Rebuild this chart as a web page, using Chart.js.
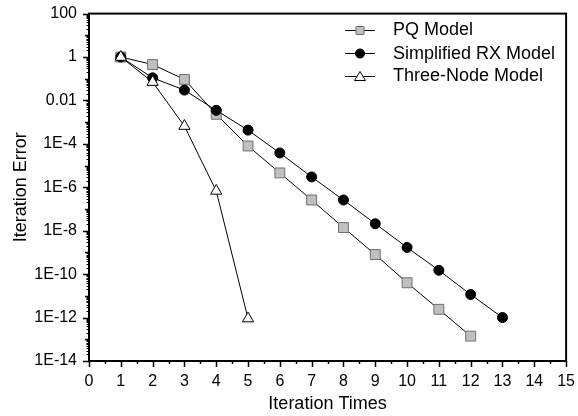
<!DOCTYPE html>
<html>
<head>
<meta charset="utf-8">
<script src="https://cdn.jsdelivr.net/npm/chart.js@4/dist/chart.umd.min.js"></script>
<style>
  html, body { margin: 0; padding: 0; background: #fff; }
  #wrap { width: 578px; height: 416px; }
</style>
</head>
<body>
<div id="wrap"><canvas id="errChart" width="578" height="416"></canvas></div>
<script>
// iteration count on x, error on a log y axis
const pqX = [1, 2, 3, 4, 5, 6, 7, 8, 9, 10, 11, 12];
const pqErr = [1, 0.45, 0.093, 2.3e-3, 8e-5, 4.6e-6, 2.6e-7, 1.4e-8, 8e-10, 4e-11, 2.4e-12, 1.4e-13];
const rxX = [1, 2, 3, 4, 5, 6, 7, 8, 9, 10, 11, 12, 13];
const rxErr = [1, 0.11, 0.03, 3.5e-3, 4.3e-4, 3.8e-5, 3e-6, 2.6e-7, 2.1e-8, 1.7e-9, 1.5e-10, 1.15e-11, 1e-12];
const tnX = [1, 2, 3, 4, 5];
const tnErr = [1, 0.07, 6.6e-4, 6.8e-7, 9e-13];
const yTicks = [100, 1, 0.01, 1e-4, 1e-6, 1e-8, 1e-10, 1e-12, 1e-14];
const seriesNames = ['PQ Model', 'Simplified RX Model', 'Three-Node Model'];

const FONT = 'Arial, "Liberation Sans", sans-serif';

function toPoints(xs, ys) {
  return xs.map((x, i) => ({ x: x, y: ys[i] }));
}

function yLabel(v) {
  if (v >= 0.01) return String(v);
  return '1E' + Math.round(Math.log10(v));
}

// frame, minor ticks and legend drawn on top of the chart
const extras = {
  id: 'extras',
  afterDraw(chart) {
    const ctx = chart.ctx;
    const a = chart.chartArea;
    const xs = chart.scales.x, ys = chart.scales.y;
    ctx.save();
    ctx.strokeStyle = '#000';
    // x ticks
    ctx.lineWidth = 1.5;
    for (let v = 0; v <= 15; v += 0.5) {
      const px = Math.round(xs.getPixelForValue(v)) + 0.5;
      const len = Number.isInteger(v) ? 6 : 3;
      ctx.beginPath();
      ctx.moveTo(px, a.bottom);
      ctx.lineTo(px, a.bottom + len);
      ctx.stroke();
    }
    // y ticks
    for (let e = -14; e <= 2; e++) {
      const py = Math.round(ys.getPixelForValue(Math.pow(10, e))) + 0.5;
      const len = (e % 2 === 0) ? 6 : 4;
      ctx.lineWidth = 1.5;
      ctx.beginPath();
      ctx.moveTo(a.left, py);
      ctx.lineTo(a.left - len, py);
      ctx.stroke();
      if (e < 2) {
        ctx.lineWidth = 1;
        for (let m = 2; m <= 9; m++) {
          const my = Math.round(ys.getPixelForValue(m * Math.pow(10, e))) + 0.5;
          ctx.beginPath();
          ctx.moveTo(a.left, my);
          ctx.lineTo(a.left - 2.5, my);
          ctx.stroke();
        }
      }
    }
    // frame
    ctx.lineWidth = 2;
    ctx.strokeRect(a.left, a.top, a.right - a.left, a.bottom - a.top);

    // legend
    const baselines = [35, 58.5, 81];
    chart.data.datasets.forEach((ds, i) => {
      const y = Math.round(baselines[i] - 5.5) + 0.5;
      ctx.lineWidth = 1;
      ctx.strokeStyle = '#000';
      ctx.beginPath();
      ctx.moveTo(345, y);
      ctx.lineTo(375, y);
      ctx.stroke();
      ctx.fillStyle = ds.pointBackgroundColor;
      ctx.strokeStyle = ds.pointBorderColor;
      ctx.beginPath();
      const cx = 360;
      if (ds.pointStyle === 'rect') {
        ctx.rect(cx - 4, y - 4, 8, 8);
      } else if (ds.pointStyle === 'circle') {
        ctx.arc(cx, y, 4.5, 0, Math.PI * 2);
      } else {
        ctx.moveTo(cx, y - 5);
        ctx.lineTo(cx + 5.5, y + 4);
        ctx.lineTo(cx - 5.5, y + 4);
        ctx.closePath();
      }
      ctx.fill();
      ctx.stroke();
      ctx.fillStyle = '#000';
      ctx.font = '18px ' + FONT;
      ctx.textBaseline = 'alphabetic';
      ctx.textAlign = 'left';
      ctx.fillText(ds.label, 393, baselines[i]);
    });
    ctx.restore();
  }
};

const ctx = document.getElementById('errChart').getContext('2d');
new Chart(ctx, {
  type: 'line',
  data: {
    datasets: [
      {
        label: seriesNames[0],
        data: toPoints(pqX, pqErr),
        borderColor: '#000', borderWidth: 1,
        pointStyle: 'rect', pointRadius: 7,
        pointBackgroundColor: '#c0c0c0', pointBorderColor: '#707070', pointBorderWidth: 1,
        order: 2
      },
      {
        label: seriesNames[1],
        data: toPoints(rxX, rxErr),
        borderColor: '#000', borderWidth: 1,
        pointStyle: 'circle', pointRadius: 5,
        pointBackgroundColor: '#000', pointBorderColor: '#000', pointBorderWidth: 1,
        order: 1
      },
      {
        label: seriesNames[2],
        data: toPoints(tnX, tnErr),
        borderColor: '#000', borderWidth: 1,
        pointStyle: 'triangle', pointRadius: 6.5,
        pointBackgroundColor: '#fff', pointBorderColor: '#000', pointBorderWidth: 1,
        order: 0
      }
    ]
  },
  options: {
    responsive: false,
    animation: false,
    layout: { padding: { top: 13, right: 9, left: 0, bottom: 0 } },
    plugins: { legend: { display: false }, tooltip: { enabled: false } },
    scales: {
      x: {
        type: 'linear', min: 0, max: 15,
        grid: { display: false },
        border: { display: false },
        ticks: { stepSize: 1, color: '#000', font: { family: FONT, size: 16 }, padding: 3, maxRotation: 0 },
        title: { display: true, text: 'Iteration Times', color: '#000', font: { family: FONT, size: 18 }, padding: { top: 0, bottom: 1 } },
        afterFit(s) { s.height = 55; }
      },
      y: {
        type: 'logarithmic', min: 1e-14, max: 100,
        grid: { display: false },
        border: { display: false },
        afterBuildTicks(s) { s.ticks = yTicks.map(v => ({ value: v })); },
        ticks: { color: '#000', font: { family: FONT, size: 16 }, padding: 4, callback: v => yLabel(v) },
        title: { display: true, text: 'Iteration Error', color: '#000', font: { family: FONT, size: 18 }, padding: { top: 10, bottom: 0 } },
        afterFit(s) { s.width = 89; }
      }
    }
  },
  plugins: [extras]
});
</script>
</body>
</html>
